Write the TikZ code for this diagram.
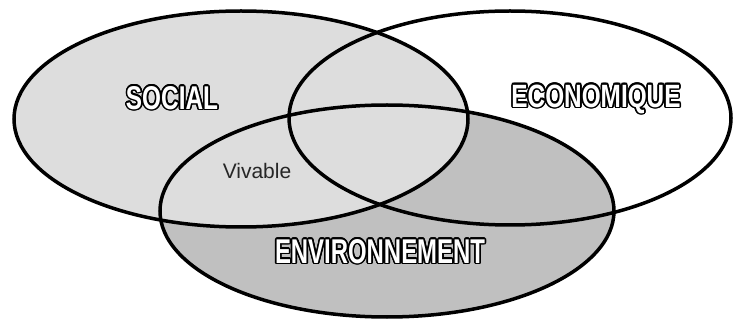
\documentclass[tikz,border=0pt]{standalone}
\usepackage{fontspec}
\usepackage{graphicx}
\setmainfont{Liberation Sans}
\definecolor{socfill}{RGB}{221,221,221}
\definecolor{envfill}{RGB}{192,192,192}
\newcommand{\olcopy}[3]{\rlap{\hspace*{#1}\raisebox{#2}{\textcolor{black}{#3}}}}
\newcommand{\outlined}[1]{%
  \olcopy{1.6pt}{0pt}{#1}\olcopy{-1.6pt}{0pt}{#1}\olcopy{0pt}{1.6pt}{#1}\olcopy{0pt}{-1.6pt}{#1}%
  \olcopy{1.13pt}{1.13pt}{#1}\olcopy{-1.13pt}{1.13pt}{#1}\olcopy{1.13pt}{-1.13pt}{#1}\olcopy{-1.13pt}{-1.13pt}{#1}%
  \olcopy{1.48pt}{0.61pt}{#1}\olcopy{-1.48pt}{0.61pt}{#1}\olcopy{1.48pt}{-0.61pt}{#1}\olcopy{-1.48pt}{-0.61pt}{#1}%
  \olcopy{0.61pt}{1.48pt}{#1}\olcopy{-0.61pt}{1.48pt}{#1}\olcopy{0.61pt}{-1.48pt}{#1}\olcopy{-0.61pt}{-1.48pt}{#1}%
  \textcolor{white}{#1}}
\tikzset{
  venn/.style={line width=3.5pt, draw=black},
  biglabel/.style={inner sep=0pt, font=\bfseries},
  smalllabel/.style={inner sep=0pt, font=\fontsize{21}{21}\selectfont, text=black!85}
}
\begin{document}
\begin{tikzpicture}[x=1pt,y=-1pt]
\useasboundingbox (0,0) rectangle (733,320);
% fills
\fill[envfill] (387,211) ellipse [x radius=227pt, y radius=106pt];
\fill[socfill] (241,119) ellipse [x radius=227pt, y radius=108pt];
% outlines
\draw[venn] (387,211) ellipse [x radius=227pt, y radius=106pt];
\draw[venn] (241,119) ellipse [x radius=227pt, y radius=108pt];
\draw[venn] (510,118) ellipse [x radius=221pt, y radius=107pt];
% labels
\node[biglabel] (social) at (172,98) {\outlined{\resizebox{92pt}{23pt}{SOCIAL}}};
\node[biglabel] (eco) at (596,99) {\outlined{\resizebox{169pt}{22.5pt}{ECONOMIQUE}}};
\node[biglabel] (env) at (380,251.5) {\outlined{\resizebox{210pt}{24pt}{ENVIRONNEMENT}}};
\node[smalllabel] (viv) at (257,171) {Vivable};
\end{tikzpicture}
\end{document}
